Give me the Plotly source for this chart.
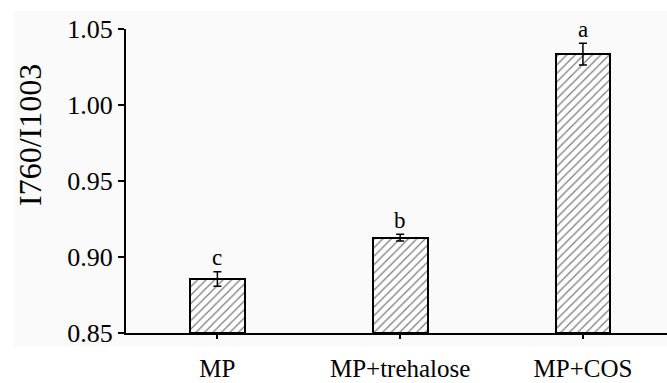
import plotly.graph_objects as go

categories = ["MP", "MP+trehalose", "MP+COS"]
values = [0.8855, 0.9127, 1.0335]
errors = [0.0048, 0.0022, 0.0072]
letters = ["c", "b", "a"]
y_ticks = [0.85, 0.90, 0.95, 1.00, 1.05]
y_tick_labels = ["0.85", "0.90", "0.95", "1.00", "1.05"]
y_base = 0.85

FONT = "Liberation Serif, Times New Roman, serif"
W, H = 667, 383
L, R, T, B = 126, 0, 29, 50
pw, ph = W - L - R, H - T - B

fig = go.Figure()
fig.add_trace(go.Bar(
    x=categories, y=[v - y_base for v in values], base=y_base, width=0.3,
    marker=dict(color="white", line=dict(color="black", width=2),
                pattern=dict(shape="/", fgcolor="black", bgcolor="white", size=6, solidity=0.22)),
    error_y=dict(type="data", array=errors, color="black", thickness=1.5, width=4),
    cliponaxis=False,
))

for c, v, e, t in zip(categories, values, errors, letters):
    fig.add_annotation(x=c, y=v + e, text=t, showarrow=False, yanchor="middle", yshift=14,
                       font=dict(family=FONT, size=23, color="black"))

fig.add_annotation(xref="paper", yref="paper", x=(30 - L) / pw, y=(H - B - 135) / ph,
                   text="I760/I1003", textangle=-90, showarrow=False,
                   xanchor="center", yanchor="middle",
                   font=dict(family=FONT, size=32, color="black"))

fig.add_shape(type="rect", xref="paper", yref="paper", layer="below",
              x0=(14 - L) / pw, x1=1.0, y0=-(346 - (H - B)) / ph, y1=(H - B - 11) / ph,
              fillcolor="#fafafa", line=dict(width=0))

fig.update_layout(
    width=W, height=H, margin=dict(l=L, r=R, t=T, b=B, pad=0, autoexpand=False),
    paper_bgcolor="white", plot_bgcolor="rgba(0,0,0,0)",
    showlegend=False, bargap=0,
    font=dict(family=FONT, color="black"),
)
fig.update_xaxes(type="category", range=[-0.5, 2.46], showline=True, linecolor="black", linewidth=2,
                 ticks="outside", ticklen=4, tickwidth=2, tickcolor="black",
                 tickfont=dict(family=FONT, size=25, color="black"), ticklabelstandoff=8,
                 showgrid=False, zeroline=False, automargin=False)
fig.update_yaxes(range=[0.85, 1.05], tickvals=y_ticks, ticktext=y_tick_labels,
                 showline=True, linecolor="black", linewidth=2,
                 ticks="outside", ticklen=6, tickwidth=2, tickcolor="black",
                 tickfont=dict(family=FONT, size=26, color="black"), ticklabelstandoff=0,
                 showgrid=False, zeroline=False, automargin=False)

fig.write_html("out.html")
